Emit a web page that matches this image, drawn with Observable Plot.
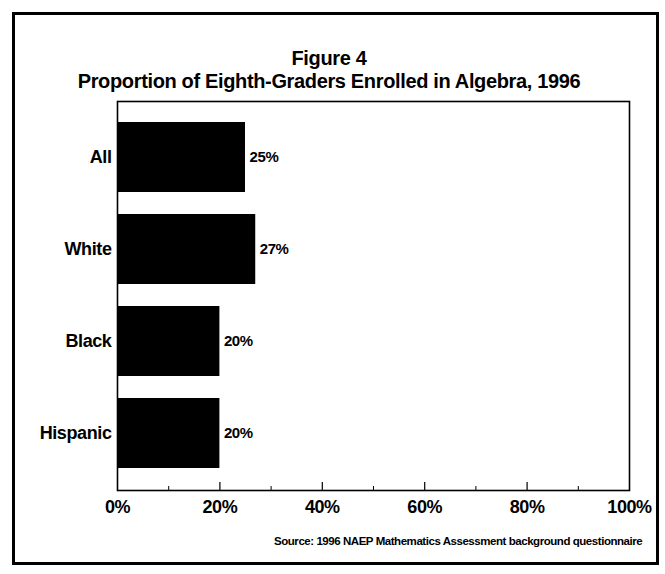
<!DOCTYPE html>
<html><head><meta charset="utf-8">
<script src="https://cdn.jsdelivr.net/npm/d3@7"></script>
<script src="https://cdn.jsdelivr.net/npm/@observablehq/plot@0.6"></script>
<style>
body{margin:0;background:#fff;}
#wrap{position:relative;width:665px;height:574px;overflow:hidden;font-family:"Liberation Sans",Arial,sans-serif;font-weight:bold;color:#000;background:#fff;}
#border{position:absolute;left:12px;top:12px;width:641px;height:547px;border:3px solid #000;pointer-events:none;}
#title{position:absolute;top:47px;left:0;width:658px;text-align:center;font-size:20px;letter-spacing:-0.35px;line-height:23px;}
#chart{position:absolute;top:95px;left:0;}
#chart svg text{letter-spacing:-0.4px;}
#source{position:absolute;top:535px;left:274px;font-size:11.5px;line-height:12px;letter-spacing:-0.45px;white-space:nowrap;}
</style></head>
<body>
<div id="wrap">
  <div id="title">Figure 4<br>Proportion of Eighth-Graders Enrolled in Algebra, 1996</div>
  <div id="chart"></div>
  <div id="source">Source: 1996 NAEP Mathematics Assessment background questionnaire</div>
  <div id="border"></div>
</div>
<script>
const categories = ["All", "White", "Black", "Hispanic"];
const values = [0.25, 0.27, 0.20, 0.20];
const valueLabels = ["25%", "27%", "20%", "20%"];
const majorTicks = [0, 0.2, 0.4, 0.6, 0.8, 1];
const minorTicks = [0.1, 0.3, 0.5, 0.7, 0.9];

const data = categories.map((c, i) => ({cat: c, value: values[i], label: valueLabels[i]}));
const frameH = 479 - 6 - 84;

const chart = Plot.plot({
  width: 665,
  height: 479,
  marginTop: 6,
  marginBottom: 84,
  marginLeft: 117,
  marginRight: 36,
  style: {background: "transparent", fontFamily: "'Liberation Sans', Arial, sans-serif", color: "black"},
  x: {domain: [0, 1], axis: null},
  y: {domain: categories, paddingInner: 0.237, paddingOuter: 0.215, axis: null},
  marks: [
    Plot.barX(data, {x: "value", y: "cat", fill: "black"}),
    Plot.text(data, {x: "value", y: "cat", text: "label", textAnchor: "start", dx: 4, fontSize: 15, fontWeight: "bold", fill: "black"}),
    Plot.tickX(majorTicks.slice(1, -1), {x: d => d, insetTop: frameH - 8, stroke: "black", strokeWidth: 1.2}),
    Plot.tickX(minorTicks, {x: d => d, insetTop: frameH - 4, stroke: "black", strokeWidth: 1}),
    Plot.frame({stroke: "black", strokeWidth: 1.6}),
    Plot.axisY({tickSize: 0, tickPadding: 6, fontSize: 18, fontWeight: "bold", label: null}),
    Plot.axisX({ticks: majorTicks, tickFormat: d => Math.round(d * 100) + "%", tickSize: 0, tickPadding: 10, fontSize: 18, fontWeight: "bold", label: null})
  ]
});
document.getElementById("chart").appendChild(chart);
</script>
</body></html>
